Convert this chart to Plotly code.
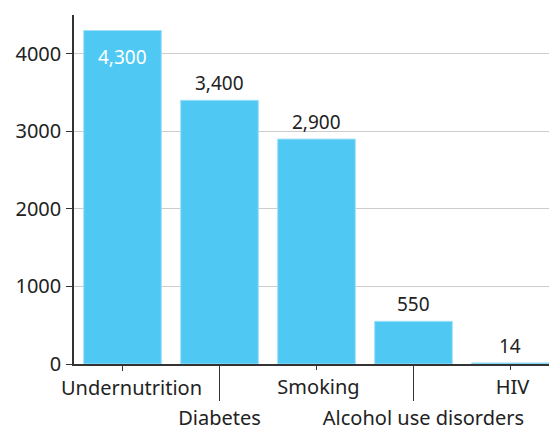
import plotly.graph_objects as go

categories = ["Undernutrition", "Diabetes", "Smoking", "Alcohol use disorders", "HIV"]
values = [4300, 3400, 2900, 550, 14]
value_labels = ["4,300", "3,400", "2,900", "550", "14"]
label_inside = [True, False, False, False, False]
y_ticks = [0, 1000, 2000, 3000, 4000]

FONT = "Noto Sans"
BAR = "#4FC9F4"
positions = list(range(len(categories)))
x_range = [-0.5, 4.397]

fig = go.Figure()
fig.add_trace(go.Bar(
    x=positions, y=values,
    marker=dict(color=BAR, line=dict(color="#9fdff8", width=1)),
    width=0.8, hoverinfo="skip", showlegend=False,
))

for x, v, txt, inside in zip(positions, values, value_labels, label_inside):
    fig.add_annotation(
        x=x, y=v, text=txt, showarrow=False,
        yanchor="top" if inside else "bottom",
        yshift=-11 if inside else 2,
        font=dict(family=FONT, size=19, color="white" if inside else "#222"),
    )

# staggered category labels: each group gets its own overlaid axis
# (tick length, label nudge in px)
groups = [
    ([0], 5, 9),
    ([2, 4], 5, 2),
    ([1], 36, 0),
    ([3], 36, 10),
]
axis_common = dict(
    range=x_range, tickmode="array", ticks="outside", tickcolor="#333",
    showgrid=False, zeroline=False, fixedrange=True,
)
layout_axes = {}
for k, (idx, tlen, shift) in enumerate(groups):
    name = "xaxis" if k == 0 else f"xaxis{k + 1}"
    ax = dict(axis_common, tickvals=idx, ticktext=[categories[i] for i in idx],
              ticklen=tlen, ticklabelshift=shift)
    if k == 0:
        ax.update(showline=True, linecolor="#333", linewidth=1.5)
    else:
        ax.update(overlaying="x", anchor="y", side="bottom", showline=False)
        # invisible trace so the overlaid axis is drawn
        fig.add_trace(go.Scatter(x=[idx[0]], y=[0], xaxis=f"x{k + 1}", mode="markers",
                                 marker=dict(opacity=0), hoverinfo="skip",
                                 showlegend=False))
    layout_axes[name] = ax

fig.update_layout(
    width=549, height=432,
    margin=dict(l=74, r=0, t=15, b=68),
    plot_bgcolor="white", paper_bgcolor="white",
    font=dict(family=FONT, size=20, color="#222"),
    yaxis=dict(
        range=[0, 4500], tickmode="array", tickvals=y_ticks,
        ticks="outside", ticklen=6, tickcolor="#333",
        showline=True, linecolor="#333", linewidth=1.5,
        showgrid=True, gridcolor="rgba(0,0,0,0.2)", gridwidth=1,
        zeroline=False, layer="above traces", ticklabelstandoff=1,
    ),
    **layout_axes,
)

fig.write_html("out.html")
